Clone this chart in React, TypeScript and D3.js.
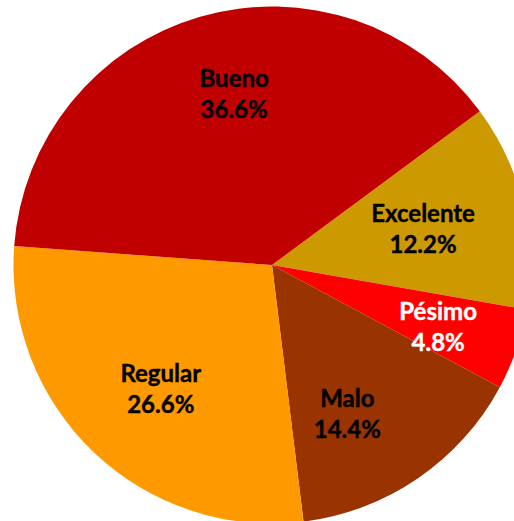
import React from 'react';
import * as d3 from 'd3';

// chart size
const svgWidth = 514;
const svgHeight = 521;
const cx = 272; // pie center
const cy = 265;
const radius = 258.5;
const startDeg = 53.5; // first slice starts here (clockwise from 12 o'clock)

// data, in the drawing order of the slices
const categories = ['Excelente', 'Pésimo', 'Malo', 'Regular', 'Bueno'];
const values = [12.2, 4.8, 14.4, 26.6, 36.6];
const valueLabels = ['12.2%', '4.8%', '14.4%', '26.6%', '36.6%'];
const colors = ['#CC9900', '#FF0000', '#993300', '#FF9900', '#C00000'];
const textColors = ['#000000', '#FFFFFF', '#000000', '#000000', '#000000'];
// best-fit nudges of the labels away from the centroid
const labelNudge: [number, number][] = [[-20, 5], [0, 6], [-24, 5], [10, -2], [11, -1]];

const labelRadius = radius * 0.68;

export default function App() {
  const start = (startDeg * Math.PI) / 180;
  const pie = d3.pie<number>().sort(null).value(d => d)
    .startAngle(start).endAngle(start + 2 * Math.PI);
  const arcs = pie(values);

  const arc = d3.arc<d3.PieArcDatum<number>>().innerRadius(0).outerRadius(radius);
  const labelArc = d3.arc<d3.PieArcDatum<number>>().innerRadius(labelRadius).outerRadius(labelRadius);

  return (
    <svg width={svgWidth} height={svgHeight}
      style={{ position: 'absolute', left: 0, top: 0, background: '#fff' }}>
      <g transform={`translate(${cx},${cy})`}>
        {arcs.map((a, i) => (
          <path key={i} d={arc(a) || ''} fill={colors[i]} />
        ))}
        {arcs.map((a, i) => {
          const [x, y] = labelArc.centroid(a);
          const lx = x + labelNudge[i][0];
          const ly = y + labelNudge[i][1];
          return (
            <text key={'t' + i} textAnchor="middle" fill={textColors[i]}
              fontFamily="Lato, 'Open Sans', sans-serif" fontWeight="bold" fontSize={24}
              stroke={textColors[i]} strokeWidth={0.4}>
              <tspan x={lx} y={ly - 8}>{categories[i]}</tspan>
              <tspan x={lx} y={ly + 23}>{valueLabels[i]}</tspan>
            </text>
          );
        })}
      </g>
    </svg>
  );
}
